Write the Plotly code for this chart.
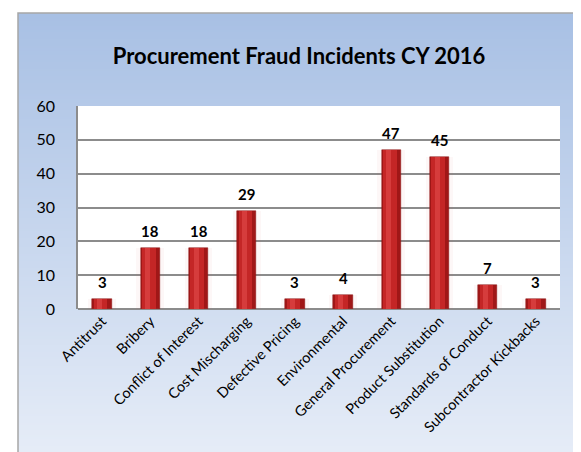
import base64, struct, zlib
import plotly.graph_objects as go

categories = ["Antitrust", "Bribery", "Conflict of Interest", "Cost Mischarging",
              "Defective Pricing", "Environmental", "General Procurement",
              "Product Substitution", "Standards of Conduct", "Subcontractor Kickbacks"]
incidents = [3, 18, 18, 29, 3, 4, 47, 45, 7, 3]
y_ticks = [0, 10, 20, 30, 40, 50, 60]
title_text = "Procurement Fraud Incidents CY 2016"

W, H = 581, 452
L, R, T, B = 70, 552, 98, 301   # plot area in pixels
pw, ph = R - L, B - T

def px_x(px):
    return (px - L) / pw

def px_y(py):
    return (B - py) / ph

# vertical gradient PNG for the chart background
def gradient_png(h, top, bottom):
    rows = b""
    for i in range(h):
        t = i / (h - 1)
        c = [round(top[k] + (bottom[k] - top[k]) * t) for k in range(3)]
        rows += b"\x00" + bytes(c)
    def chunk(tag, data):
        return struct.pack(">I", len(data)) + tag + data + struct.pack(">I", zlib.crc32(tag + data) & 0xffffffff)
    png = b"\x89PNG\r\n\x1a\n"
    png += chunk(b"IHDR", struct.pack(">IIBBBBB", 1, h, 8, 2, 0, 0, 0))
    png += chunk(b"IDAT", zlib.compress(rows))
    png += chunk(b"IEND", b"")
    return "data:image/png;base64," + base64.b64encode(png).decode()

bg_src = gradient_png(200, (168, 192, 228), (232, 238, 248))

font = "Lato, 'Open Sans', Arial, sans-serif"

fig = go.Figure()
# faint glow
fig.add_trace(go.Bar(x=categories, y=incidents, width=0.58,
                     marker=dict(color="rgba(225,90,90,0.05)", line_width=0),
                     hoverinfo="skip"))
# base bar
fig.add_trace(go.Bar(x=categories, y=incidents, width=0.40,
                     marker=dict(color="#A01717", line=dict(color="#8A1212", width=0.5))))
# lighter body
fig.add_trace(go.Bar(x=categories, y=incidents, width=0.28, offset=-0.17,
                     marker=dict(color="#C42626", line_width=0), hoverinfo="skip"))
# highlight
fig.add_trace(go.Bar(x=categories, y=incidents, width=0.10, offset=-0.10,
                     marker=dict(color="#D63C3C", line_width=0), hoverinfo="skip"))

annotations = [dict(x=c, y=v, xref="x", yref="y", text="<b>%d</b>" % v, showarrow=False,
                    yanchor="bottom", yshift=6,
                    font=dict(family=font, size=15, color="#000000"))
               for c, v in zip(categories, incidents)]

fig.update_layout(
    width=W, height=H,
    margin=dict(l=L, r=W - R, t=T, b=H - B, pad=0, autoexpand=False),
    barmode="overlay",
    showlegend=False,
    paper_bgcolor="white",
    plot_bgcolor="white",
    font=dict(family=font, color="#000000"),
    title=dict(text="<b>" + title_text + "</b>", x=291 / W, xanchor="center",
               y=1 - 48 / H, yanchor="middle",
               font=dict(family=font, size=22, color="#000000")),
    annotations=annotations,
    images=[dict(source=bg_src, xref="paper", yref="paper",
                 x=px_x(10), y=px_y(5), sizex=(W + 10 - 10) / pw, sizey=(H + 10 - 5) / ph,
                 xanchor="left", yanchor="top", sizing="stretch", layer="below")],
    shapes=[
        dict(type="rect", xref="paper", yref="paper", x0=0, x1=1, y0=0, y1=1,
             fillcolor="white", line_width=0, layer="below"),
        dict(type="rect", xref="paper", yref="paper", x0=px_x(10), x1=px_x(W + 10),
             y0=px_y(H + 10), y1=px_y(5), fillcolor="rgba(0,0,0,0)",
             line=dict(color="#A6A6A6", width=1.5), layer="above"),
    ],
    xaxis=dict(tickangle=-45, tickfont=dict(family=font, size=14.5, color="#000000"),
               showline=False, showgrid=False, ticks="", automargin=False),
    yaxis=dict(range=[0, 60], tickvals=y_ticks, showgrid=True, gridcolor="#8C8C8C",
               gridwidth=1.5, showline=True, linecolor="#8C8C8C", linewidth=1.5,
               zeroline=True, zerolinecolor="#8C8C8C", zerolinewidth=1.5,
               ticks="outside", ticklen=18, tickcolor="rgba(0,0,0,0)", automargin=False,
               tickfont=dict(family=font, size=16, color="#000000")),
    bargap=0,
)

fig.write_html("out.html")
